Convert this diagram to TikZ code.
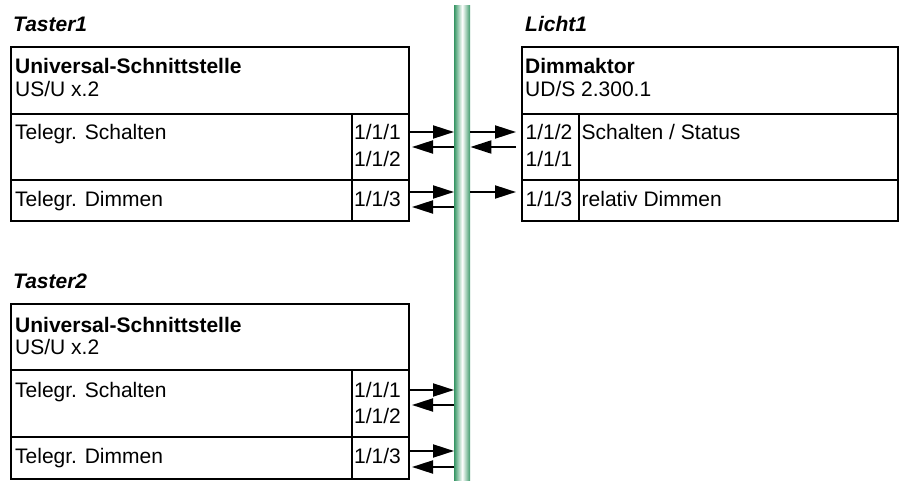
\documentclass[tikz,border=0pt]{standalone}
\usepackage{fontspec}
\setmainfont{Liberation Sans}
\usetikzlibrary{arrows.meta}
\definecolor{busgreen}{RGB}{58,152,104}
\begin{document}
\begin{tikzpicture}[x=1pt,y=-1pt,
  every node/.style={font=\fontsize{21}{25}\selectfont},
  cell/.style={draw,line width=2pt,inner sep=0pt,anchor=north west},
  txt/.style={anchor=base west,inner sep=0pt},
  devtitle/.style={txt,font=\fontsize{21}{25}\selectfont\bfseries\itshape},
  devname/.style={txt,font=\fontsize{21}{25}\selectfont\bfseries},
  sig/.style={line width=2pt,-{Triangle[length=21pt,width=13pt]}}]
\useasboundingbox (0,0) rectangle (903,481);

% bus line
\node[anchor=north west,inner sep=0pt,minimum width=16pt,minimum height=476pt,
  left color=busgreen,right color=busgreen,middle color=white] (bus) at (454,5) {};

% ---- Taster1 ----
\node[devtitle] (t1title) at (13,32) {Taster1};
\node[cell,minimum width=398pt,minimum height=67pt] (t1head) at (10,46) {};
\node[cell,minimum width=341pt,minimum height=66pt] (t1r1n) at (10,113) {};
\node[cell,minimum width=57pt,minimum height=66pt] (t1r1a) at (351,113) {};
\node[cell,minimum width=341pt,minimum height=41pt] (t1r2n) at (10,179) {};
\node[cell,minimum width=57pt,minimum height=41pt] (t1r2a) at (351,179) {};
\node[devname] (t1dev) at (15,74) {Universal-Schnittstelle};
\node[txt] (t1type) at (15,97) {US/U x.2};
\node[txt] (t1f1) at (15,140) {Telegr. Schalten};
\node[txt] (t1a1) at (354,140) {1/1/1};
\node[txt] (t1a2) at (354,167) {1/1/2};
\node[txt] (t1f2) at (15,207) {Telegr. Dimmen};
\node[txt] (t1a3) at (354,207) {1/1/3};

\draw[sig] (t1r1a.east |- 0,132) -- (bus.west |- 0,132);
\draw[sig,shorten >=2pt] (bus.west |- 0,147) -- (t1r1a.east |- 0,147);
\draw[sig] (t1r2a.east |- 0,192) -- (bus.west |- 0,192);
\draw[sig,shorten >=2pt] (bus.west |- 0,207) -- (t1r2a.east |- 0,207);

% ---- Licht1 ----
\node[devtitle] (l1title) at (525,32) {Licht1};
\node[cell,minimum width=376pt,minimum height=67pt] (l1head) at (521,46) {};
\node[cell,minimum width=57pt,minimum height=66pt] (l1r1a) at (521,113) {};
\node[cell,minimum width=319pt,minimum height=66pt] (l1r1n) at (578,113) {};
\node[cell,minimum width=57pt,minimum height=41pt] (l1r2a) at (521,179) {};
\node[cell,minimum width=319pt,minimum height=41pt] (l1r2n) at (578,179) {};
\node[devname] (l1dev) at (525,74) {Dimmaktor};
\node[txt] (l1type) at (525,97) {UD/S 2.300.1};
\node[txt] (l1a1) at (525.5,140) {1/1/2};
\node[txt] (l1a2) at (525.5,167) {1/1/1};
\node[txt] (l1f1) at (581.5,140) {Schalten / Status};
\node[txt] (l1a3) at (525.5,207) {1/1/3};
\node[txt] (l1f2) at (581.5,207) {relativ Dimmen};

\draw[sig,shorten >=5pt] (bus.east |- 0,132) -- (l1r1a.west |- 0,132);
\draw[sig,shorten <=5pt] (l1r1a.west |- 0,147) -- (bus.east |- 0,147);
\draw[sig,shorten >=5pt] (bus.east |- 0,192) -- (l1r2a.west |- 0,192);

% ---- Taster2 ----
\node[devtitle] (t2title) at (13,289) {Taster2};
\node[cell,minimum width=398pt,minimum height=66pt] (t2head) at (10,303) {};
\node[cell,minimum width=341pt,minimum height=67pt] (t2r1n) at (10,369) {};
\node[cell,minimum width=57pt,minimum height=67pt] (t2r1a) at (351,369) {};
\node[cell,minimum width=341pt,minimum height=42pt] (t2r2n) at (10,436) {};
\node[cell,minimum width=57pt,minimum height=42pt] (t2r2a) at (351,436) {};
\node[devname] (t2dev) at (15,332) {Universal-Schnittstelle};
\node[txt] (t2type) at (15,355) {US/U x.2};
\node[txt] (t2f1) at (15,397) {Telegr. Schalten};
\node[txt] (t2a1) at (354,397) {1/1/1};
\node[txt] (t2a2) at (354,423) {1/1/2};
\node[txt] (t2f2) at (15,463) {Telegr. Dimmen};
\node[txt] (t2a3) at (354,463) {1/1/3};

\draw[sig] (t2r1a.east |- 0,390) -- (bus.west |- 0,390);
\draw[sig,shorten >=2pt] (bus.west |- 0,405) -- (t2r1a.east |- 0,405);
\draw[sig] (t2r2a.east |- 0,451) -- (bus.west |- 0,451);
\draw[sig,shorten >=2pt] (bus.west |- 0,467) -- (t2r2a.east |- 0,467);
\end{tikzpicture}
\end{document}
